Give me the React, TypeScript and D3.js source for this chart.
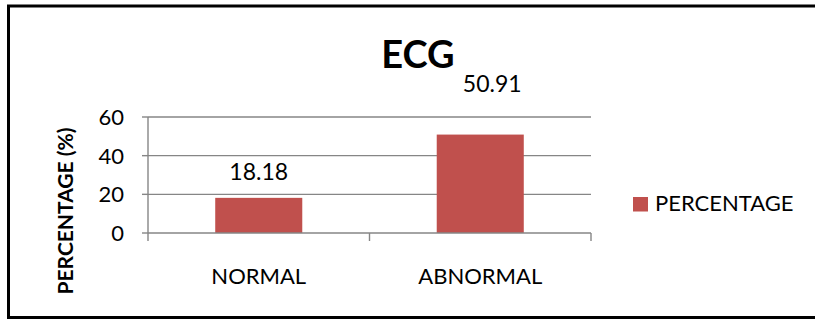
import React from "react";
import * as d3 from "d3";

const categories = ["NORMAL", "ABNORMAL"];
const percentages = [18.18, 50.91];
const yTicks = [0, 20, 40, 60];
const seriesName = "PERCENTAGE";
const chartTitle = "ECG";
const yAxisTitle = "PERCENTAGE (%)";

const W = 815;
const H = 320;
const FONT = "Lato, 'Open Sans', sans-serif";
const BAR = "#C0504D";
const GRID = "#868686";

export default function App() {
  const plot = { left: 148, right: 591, top: 117, bottom: 233 };

  const x = d3
    .scaleBand<string>()
    .domain(categories)
    .range([plot.left, plot.right])
    .paddingInner(0.607)
    .paddingOuter(0.3035);

  const y = d3.scaleLinear().domain([0, 60]).range([plot.bottom, plot.top]);

  const step = x.step();
  const catEdges = d3.range(categories.length + 1).map((i) => plot.left + i * step);

  // the second label sits lifted and nudged right, clear of the plot's top edge
  const labelShift = [
    { dx: 0, dy: -18 },
    { dx: 12, dy: -43 },
  ];

  return (
    <svg
      width={W}
      height={H}
      style={{ position: "absolute", left: 0, top: 0, background: "#fff" }}
      fontFamily={FONT}
    >
      <rect x={0} y={0} width={W} height={H} fill="#fff" />
      {/* frame: top, left and bottom edges; the right edge runs past the canvas */}
      <path d={`M${W},6 H8.5 V317.5 H${W}`} fill="none" stroke="#000" strokeWidth={3} />

      {/* title */}
      <text x={418} y={68} textAnchor="middle" fontSize={38} fontWeight="bold" fill="#000">
        {chartTitle}
      </text>

      {/* gridlines */}
      {yTicks
        .filter((t) => t > 0)
        .map((t) => (
          <line key={t} x1={plot.left} x2={plot.right} y1={y(t)} y2={y(t)} stroke={GRID} strokeWidth={1.4} />
        ))}

      {/* bars */}
      {categories.map((c, i) => (
        <rect
          key={c}
          x={x(c)}
          y={y(percentages[i])}
          width={x.bandwidth()}
          height={y(0) - y(percentages[i])}
          fill={BAR}
        />
      ))}

      {/* y axis */}
      <line x1={plot.left} x2={plot.left} y1={plot.top} y2={plot.bottom} stroke={GRID} strokeWidth={1.4} />
      {yTicks.map((t) => (
        <g key={t}>
          <line x1={plot.left - 6} x2={plot.left} y1={y(t)} y2={y(t)} stroke={GRID} strokeWidth={1.4} />
          <text x={124} y={y(t) + 8} textAnchor="end" fontSize={22} fill="#000">
            {t}
          </text>
        </g>
      ))}

      {/* x axis */}
      <line x1={plot.left} x2={plot.right} y1={plot.bottom} y2={plot.bottom} stroke={GRID} strokeWidth={1.4} />
      {catEdges.map((e, i) => (
        <line key={i} x1={e} x2={e} y1={plot.bottom} y2={plot.bottom + 8} stroke={GRID} strokeWidth={1.4} />
      ))}
      {categories.map((c) => (
        <text key={c} x={(x(c) as number) + x.bandwidth() / 2} y={284} textAnchor="middle" fontSize={22} fill="#000">
          {c}
        </text>
      ))}

      {/* data labels */}
      {categories.map((c, i) => (
        <text
          key={c}
          x={(x(c) as number) + x.bandwidth() / 2 + labelShift[i].dx}
          y={y(percentages[i]) + labelShift[i].dy}
          textAnchor="middle"
          fontSize={23}
          fill="#000"
        >
          {percentages[i].toFixed(2)}
        </text>
      ))}

      {/* y axis title */}
      <text
        transform={`translate(73, 211) rotate(-90)`}
        textAnchor="middle"
        fontSize={21}
        fontWeight="bold"
        fill="#000"
      >
        {yAxisTitle}
      </text>

      {/* legend */}
      <rect x={633} y={197} width={15} height={14.5} fill={BAR} />
      <text x={655} y={211} fontSize={22} fill="#000">
        {seriesName}
      </text>
    </svg>
  );
}
